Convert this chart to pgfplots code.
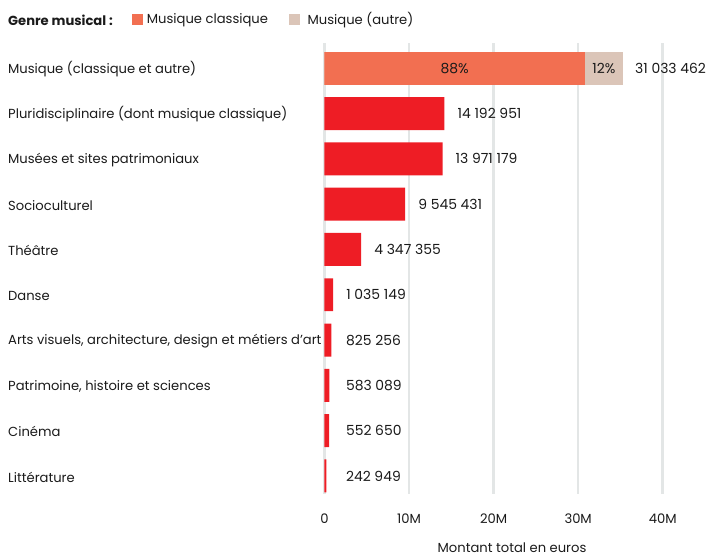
\documentclass[border=0pt]{standalone}
\usepackage{fontspec}
\setmainfont{Poppins}
\usepackage{pgfplots}
\pgfplotsset{compat=1.18}
\usepackage{pgfplotstable}
\usetikzlibrary{calc}

\definecolor{rouge}{HTML}{EE1D25}
\definecolor{classique}{HTML}{F26F51}
\definecolor{autre}{HTML}{DBC5B8}
\definecolor{grille}{HTML}{E3E6E6}
\definecolor{texte}{HTML}{1A1A1A}

% idx, montant, position du libelle, libelle
\pgfplotstableread{
idx value pos lbl
1 14192951 14192951 {14 192 951}
2 13971179 13971179 {13 971 179}
3 9545431 9545431 {9 545 431}
4 4347355 4347355 {4 347 355}
5 1035149 1035149 {1 035 149}
6 825256 1000000 {825 256}
7 583089 1000000 {583 089}
8 552650 1000000 {552 650}
9 242949 1000000 {242 949}
}\autres

\begin{document}
\begin{tikzpicture}[font=\fontsize{13.2}{15}\selectfont, text=texte]
\begin{axis}[
    name=ax,
    scale only axis,
    width=339bp, height=452bp,
    xmin=0, xmax=40000000,
    ymin=-0.56, ymax=9.4,
    y dir=reverse,
    axis line style={draw=none},
    major tick length=0pt,
    scaled x ticks=false,
    xtick={0,10000000,20000000,30000000,40000000},
    xticklabels={0,10M,20M,30M,40M},
    xticklabel style={yshift=-16bp},
    xmajorgrids,
    grid style={color=grille, line width=2.6bp},
    ytick={0,...,9},
    yticklabels={Musique (classique et autre),
        Pluridisciplinaire (dont musique classique),
        Musées et sites patrimoniaux,
        Socioculturel,
        Théâtre,
        Danse,
        {Arts visuels, architecture, design et métiers d’art},
        {Patrimoine, histoire et sciences},
        Cinéma,
        Littérature},
    yticklabel style={anchor=west, xshift=-317bp, inner xsep=0pt, yshift=-1bp},
    bar width=33bp,
]
% barre empilee : musique (autre) puis musique classique par-dessus
\addplot[xbar, bar shift=0pt, fill=autre, draw=none] coordinates {(35300000,0)};
\addplot[xbar, bar shift=0pt, fill=classique, draw=none] coordinates {(30800000,0)};
\addplot[xbar, bar shift=0pt, fill=rouge, draw=none] table[x=value, y=idx] {\autres};
% libelles de valeur
\addplot[draw=none, mark=none, nodes near coords,
    point meta=explicit symbolic,
    nodes near coords style={anchor=west, xshift=13bp, inner xsep=0pt,
        font=\fontsize{14}{16}\selectfont}]
    table[x=pos, y=idx, meta=lbl] {\autres};
\addplot[draw=none, mark=none, nodes near coords,
    point meta=explicit symbolic,
    nodes near coords style={anchor=west, xshift=12bp, inner xsep=0pt,
        font=\fontsize{14}{16}\selectfont}]
    coordinates {(35300000,0) [31 033 462]};
\node[font=\fontsize{14}{16}\selectfont] at (axis cs:15400000,0) {88\%};
\node[font=\fontsize{14}{16}\selectfont] at (axis cs:33050000,0) {12\%};
\end{axis}
\begin{scope}[shift={($(ax.south west)+(-325bp,495bp)$)}, x=1bp, y=-1bp]
\path[use as bounding box] (0,0) rectangle (706,558);
\node[anchor=west, inner xsep=0pt, font=\fontsize{13.2}{15}\selectfont\bfseries] at (8,20) {Genre musical :};
\fill[classique] (132,14) rectangle (143,25);
\node[anchor=west, inner xsep=0pt] at (147,20) {Musique classique};
\fill[autre] (290,14) rectangle (301,25);
\node[anchor=west, inner xsep=0pt] at (308,20) {Musique (autre)};
\node at (513,549) {Montant total en euros};
\end{scope}
\end{tikzpicture}
\end{document}
